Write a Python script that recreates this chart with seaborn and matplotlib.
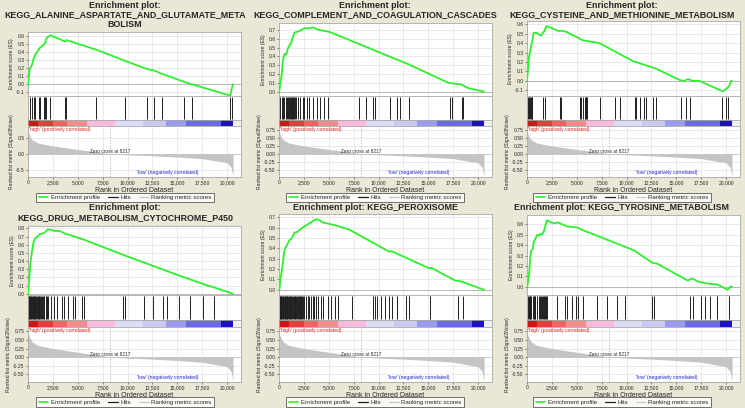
import matplotlib
matplotlib.use("Agg")
import matplotlib.pyplot as plt
from matplotlib.lines import Line2D
from matplotlib.ticker import MultipleLocator, FuncFormatter
import seaborn as sns

# ---------------- data ----------------
titles = [
    ["Enrichment plot:", "KEGG_ALANINE_ASPARTATE_AND_GLUTAMATE_META", "BOLISM"],
    ["Enrichment plot:", "KEGG_COMPLEMENT_AND_COAGULATION_CASCADES"],
    ["Enrichment plot:", "KEGG_CYSTEINE_AND_METHIONINE_METABOLISM"],
    ["Enrichment plot:", "KEGG_DRUG_METABOLISM_CYTOCHROME_P450"],
    ["Enrichment plot: KEGG_PEROXISOME"],
    ["Enrichment plot: KEGG_TYROSINE_METABOLISM"],
]

# alanine / aspartate / glutamate
ala_es_rank = [0, 170, 400, 570, 740, 1070, 1240, 1570, 1740, 1840, 2240, 3750, 3850,
               6870, 9780, 11960, 12700, 13470, 15710, 16480, 20330, 20500, 20600]
ala_es = [0, 0.19, 0.24, 0.32, 0.37, 0.43, 0.46, 0.49, 0.52, 0.57, 0.61, 0.53, 0.55,
          0.43, 0.29, 0.19, 0.17, 0.13, 0.03, 0.0, -0.14, -0.04, 0.0]
ala_hits = [170, 400, 570, 740, 1070, 1240, 1570, 1740, 1840, 2240, 3750, 3850, 6870,
            9780, 11960, 12700, 13470, 15710, 16480, 20330, 20500]

# complement and coagulation
comp_es_rank = [0, 66, 166, 299, 399, 565, 731, 897, 1063, 1229, 1329, 1561, 2060, 2558,
                3056, 3389, 4053, 5050, 13023, 17010, 17674, 18339, 19003, 20600]
comp_es = [0, 0.03, 0.12, 0.22, 0.36, 0.43, 0.42, 0.49, 0.53, 0.55, 0.60, 0.67, 0.69, 0.72,
           0.72, 0.73, 0.70, 0.68, 0.31, 0.10, 0.09, 0.08, 0.04, 0.0]
comp_hits = [133, 266, 399, 532, 664, 797, 897, 997, 1063, 1163, 1262, 1329, 1395, 1495,
             1595, 1728, 1894, 2060, 2392, 2558, 2791, 3056, 3389, 3821, 4153, 4485, 4884,
             8040, 8704, 9435, 9635, 11196, 11860, 12193, 13023, 17176, 17409, 18339, 18505]

# cysteine and methionine
cys_es_rank = [0, 100, 201, 334, 435, 535, 669, 936, 1271, 1438, 1605, 1773, 1940, 2274,
               3110, 3612, 3946, 5619, 7291, 10635, 12977, 15318, 15819, 16154, 16656,
               17324, 19666, 20000, 20167, 20334, 20502, 20600]
cys_es = [0, 0.11, 0.26, 0.32, 0.38, 0.43, 0.51, 0.51, 0.49, 0.48, 0.51, 0.53, 0.58, 0.57,
          0.53, 0.53, 0.52, 0.43, 0.40, 0.21, 0.13, 0.01, 0.0, 0.02, 0.0,
          0.0, -0.11, -0.085, -0.07, -0.05, 0.0, 0.0]
cys_hits = [100, 201, 268, 368, 468, 535, 1605, 1839, 3278, 3445, 5284, 5452, 5619, 5786,
            5886, 5953, 6054, 7291, 8796, 9298, 10803, 10970, 11304, 11706, 11973, 12709,
            12977, 15485, 15987, 16388, 19599, 20000, 20201]

# drug metabolism cytochrome P450
drug_es_rank = [0, 67, 167, 268, 401, 535, 669, 936, 1171, 1505, 1672, 2007, 2341, 2676,
                3177, 3679, 5686, 9699, 15050, 18060, 18395, 20600]
drug_es = [0, 0.10, 0.27, 0.40, 0.52, 0.62, 0.67, 0.70, 0.73, 0.74, 0.75, 0.79, 0.78, 0.77,
           0.77, 0.74, 0.66, 0.47, 0.23, 0.10, 0.09, 0.0]
drug_hits = [40, 90, 150, 210, 260, 330, 400, 460, 530, 600, 680, 750, 830, 900, 980, 1060,
             1150, 1230, 1320, 1420, 1520, 1640, 1760, 1880, 2000, 2300, 2600, 2900, 3400,
             3650, 4050, 4550, 4750, 5450, 5620, 9560, 9760, 11690, 12530, 13600, 13980,
             15150, 16240, 17550, 18700]

# peroxisome
perox_es_rank = [0, 66, 133, 233, 399, 498, 631, 897, 1063, 1229, 1462, 1561, 1894, 2226,
                 2558, 2890, 3223, 3389, 3721, 4053, 4385, 5714, 7043, 11030, 11362, 15017,
                 15349, 17674, 18339, 20600]
perox_es = [0, 0.01, 0.10, 0.15, 0.26, 0.36, 0.40, 0.45, 0.48, 0.49, 0.53, 0.55, 0.56, 0.59,
            0.61, 0.63, 0.65, 0.66, 0.68, 0.67, 0.65, 0.62, 0.58, 0.37, 0.37, 0.21,
            0.21, 0.09, 0.08, 0.0]
perox_hits = [70, 133, 200, 233, 300, 399, 450, 498, 560, 631, 700, 780, 850, 897, 960,
              1063, 1130, 1229, 1300, 1380, 1462, 1561, 1640, 1720, 1800, 1894, 1980, 2060,
              2150, 2226, 2330, 2450, 2558, 2700, 2890, 3050, 3223, 3389, 3550, 3721, 3900,
              4219, 4452, 4884, 5216, 5648, 5880, 7375, 9435, 9635, 9867, 10199, 10698,
              11096, 11362, 11860, 12757, 13090, 15183, 17940, 18505]

# tyrosine
tyr_es_rank = [0, 67, 168, 269, 336, 437, 571, 672, 840, 1008, 1176, 1345, 1513, 1681, 1849,
               2017, 2353, 2857, 3092, 3529, 4034, 5042, 5714, 10756, 12605, 13109, 16134,
               16639, 17143, 18151, 19160, 20168, 20437, 20600]
tyr_es = [0, 0.02, 0.09, 0.20, 0.29, 0.35, 0.36, 0.43, 0.46, 0.50, 0.49, 0.51, 0.50, 0.53,
          0.59, 0.64, 0.62, 0.61, 0.62, 0.60, 0.58, 0.57, 0.54, 0.35, 0.23, 0.22, 0.06,
          0.08, 0.05, 0.03, 0.02, -0.03, 0.0, 0.0]
tyr_hits = [100, 168, 269, 336, 437, 571, 672, 760, 840, 1008, 1176, 1345, 1430, 1513, 1600,
            1681, 1770, 1849, 1940, 2017, 3025, 3866, 4034, 4538, 4874, 5109, 5647, 7059,
            8000, 9076, 9815, 12605, 12773, 16403, 16639, 17479, 17882, 18420, 19092, 20336]

es_ylims = [(-0.145, 0.65), (-0.05, 0.78), (-0.16, 0.635),
            (-0.015, 0.83), (-0.05, 0.73), (-0.08, 0.69)]
metric_tick_step = [0.5, 0.25, 0.25, 0.25, 0.25, 0.25]

# ranked list metric (same list for all six plots)
metric_rank = [0, 100, 400, 1000, 2500, 5000, 7500, 8217, 10000, 12500, 15000, 17500,
               20000, 20400, 20600]
metric_value = [0.78, 0.62, 0.45, 0.34, 0.25, 0.14, 0.04, 0.0, -0.03, -0.06, -0.10, -0.15,
                -0.28, -0.42, -0.70]
zero_cross = 8217
n_genes = 20600

# heat bar under the hits
bar_edges = [0, 1000, 2500, 3900, 5900, 8700, 11600, 13900, 15900, 19400, 20600]
bar_colors = ['#d41414', '#e83c3c', '#f06464', '#f58c8c', '#f9badb', '#dcdcf7',
              '#c9c9f1', '#9a9aee', '#6a6ae2', '#1c12c4']

panels = [
    (ala_es_rank, ala_es, ala_hits),
    (comp_es_rank, comp_es, comp_hits),
    (cys_es_rank, cys_es, cys_hits),
    (drug_es_rank, drug_es, drug_hits),
    (perox_es_rank, perox_es, perox_hits),
    (tyr_es_rank, tyr_es, tyr_hits),
]

# ---------------- layout (pixels) ----------------
W, H = 745, 408
BG = '#ebe7d7'
GREEN = '#2ef02e'
GRID = '#e2e2e2'
XMAX = 21400

sns.set_style("white")
plt.rcParams['font.family'] = ['Liberation Sans', 'DejaVu Sans']
plt.rcParams['axes.unicode_minus'] = False

fig = plt.figure(figsize=(W / 100, H / 100), dpi=100, facecolor=BG)


def add_ax(x, y, w, h):
    return fig.add_axes([x / W, 1 - (y + h) / H, w / W, h / H])


col_left = [28, 279, 527]
col_center = [125, 375, 622]
ax_w = 213
es_top = [32, 23, 21, 226, 214, 215]
rows = [
    dict(title_y=5, es_bottom=96, bar_top=120, rank_top=126, rank_bottom=177, legend_y=197.5),
    dict(title_y=208, es_bottom=295, bar_top=320, rank_top=327, rank_bottom=382, legend_y=402),
]


def style_box(ax):
    ax.set_facecolor('white')
    for sp in ax.spines.values():
        sp.set_color('#a8a8a8')
        sp.set_linewidth(0.6)


for i, (es_rank, es, hits) in enumerate(panels):
    r = rows[i // 3]
    left = col_left[i % 3]
    cx = col_center[i % 3]

    # title
    for k, line in enumerate(titles[i]):
        fig.text(cx / W, 1 - (r['title_y'] + 9.6 * k) / H, line, ha='center', va='center',
                 fontsize=6.4, fontweight='bold')

    # enrichment score
    ax = add_ax(left, es_top[i], ax_w, r['es_bottom'] - es_top[i])
    style_box(ax)
    ax.axhline(0, color='#b0b0b0', lw=0.6, zorder=1)
    sns.lineplot(x=es_rank, y=es, ax=ax, color=GREEN, lw=1.3, zorder=3)
    ax.set_xlim(0, XMAX)
    ax.set_ylim(*es_ylims[i])
    ax.xaxis.set_major_locator(MultipleLocator(2500))
    ax.yaxis.set_major_locator(MultipleLocator(0.1))
    ax.yaxis.set_major_formatter(FuncFormatter(lambda v, p: f"{v:.1f}"))
    ax.grid(True, color=GRID, lw=0.5)
    ax.set_xticklabels([])
    ax.tick_params(axis='x', length=0)
    ax.tick_params(axis='y', labelsize=3.6, length=1.5, width=0.4, pad=1, left=True)
    ax.set_ylabel("Enrichment score (ES)", fontsize=3.6, labelpad=1.5)

    # hits
    hx = add_ax(left, r['es_bottom'], ax_w, r['bar_top'] - r['es_bottom'])
    style_box(hx)
    hx.set_xlim(0, XMAX)
    hx.set_ylim(0, 1)
    hx.xaxis.set_major_locator(MultipleLocator(2500))
    hx.grid(True, axis='x', color=GRID, lw=0.5)
    hx.vlines(hits, 0.04, 0.96, color='#1e1e1e', lw=0.7)
    hx.set_xticklabels([])
    hx.set_yticks([])
    hx.tick_params(length=0)

    # heat bar
    bx = add_ax(left, r['bar_top'], ax_w, r['rank_top'] - r['bar_top'])
    style_box(bx)
    bx.set_xlim(0, XMAX)
    bx.set_ylim(0, 1)
    for a, b, c in zip(bar_edges[:-1], bar_edges[1:], bar_colors):
        bx.axvspan(a, b, color=c, lw=0)
    bx.axvspan(n_genes, XMAX, color='#f0f0f0', lw=0)
    bx.set_xticks([])
    bx.set_yticks([])

    # ranked list metric
    rx = add_ax(left, r['rank_top'], ax_w, r['rank_bottom'] - r['rank_top'])
    style_box(rx)
    rx.fill_between(metric_rank, 0, metric_value, color='#c4c4c4', lw=0, zorder=2)
    rx.axhline(0, color='#b0b0b0', lw=0.4, zorder=1)
    rx.axvline(zero_cross, color='#a0a0a0', lw=0.5, ls=(0, (2, 2)), zorder=3)
    rx.set_xlim(0, XMAX)
    rx.set_ylim(-0.73, 0.88)
    rx.xaxis.set_major_locator(MultipleLocator(2500))
    rx.xaxis.set_major_formatter(FuncFormatter(lambda v, p: f"{int(v):,}"))
    rx.yaxis.set_major_locator(MultipleLocator(metric_tick_step[i]))
    fmt = "{:.1f}" if metric_tick_step[i] == 0.5 else "{:.2f}"
    rx.yaxis.set_major_formatter(FuncFormatter(lambda v, p, f=fmt: f.format(v)))
    rx.grid(True, color=GRID, lw=0.5)
    rx.tick_params(labelsize=3.6, length=1.5, width=0.4, pad=1, left=True, bottom=True)
    rx.set_ylabel("Ranked list metric (Signal2Noise)", fontsize=3.6, labelpad=1.5)
    rx.set_xlabel("Rank in Ordered Dataset", fontsize=5, labelpad=1.2)
    rx.text(zero_cross, 0.08, "Zero cross at 8217", fontsize=3.4, ha='center', va='center',
            zorder=4)
    rx.text(150, 0.86, "'high' (positively correlated)", fontsize=3.6, color='#e02020',
            ha='left', va='top', zorder=4)
    rx.text(14000, -0.6, "'low' (negatively correlated)", fontsize=3.6, color='#2020d0',
            ha='center', va='center', zorder=4)

    handles = [Line2D([], [], color=GREEN, lw=1.2),
               Line2D([], [], color='#1e1e1e', lw=0.9),
               Line2D([], [], color='#c8c8c8', lw=0.9)]
    leg = rx.legend(handles, ["Enrichment profile", "Hits", "Ranking metric scores"],
                    loc='center', bbox_to_anchor=(cx / W, 1 - r['legend_y'] / H),
                    bbox_transform=fig.transFigure, ncol=3, fontsize=4.4, frameon=True,
                    fancybox=False, edgecolor='#333333', handlelength=1.6,
                    columnspacing=1.3, borderpad=0.35, handletextpad=0.4)
    leg.get_frame().set_linewidth(0.6)

fig.savefig("out.png", dpi=100, facecolor=BG)
